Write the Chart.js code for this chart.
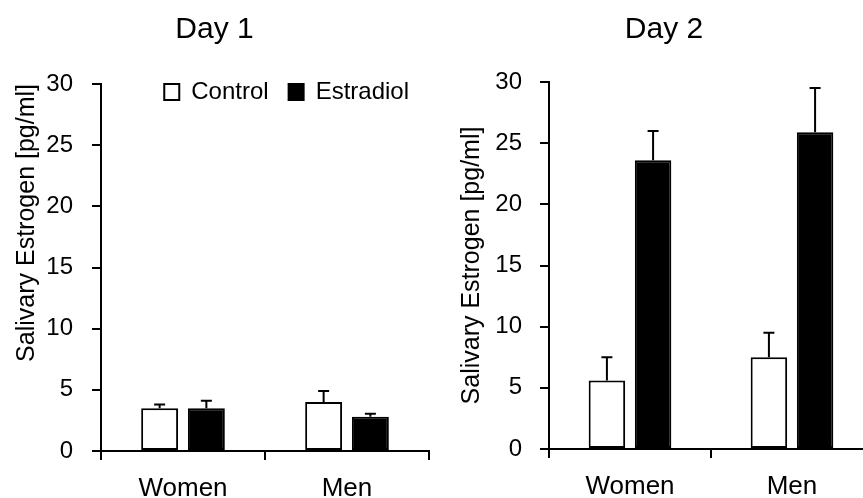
<!DOCTYPE html>
<html>
<head>
<meta charset="utf-8">
<script src="https://cdn.jsdelivr.net/npm/chart.js@4.4.1/dist/chart.umd.min.js"></script>
<style>
  html, body { margin: 0; padding: 0; background: #fff; overflow: hidden; }
  #wrap { position: relative; width: 863px; height: 498px; overflow: hidden; }
  #c1 { position: absolute; left: 0; top: 0; }
  #c2 { position: absolute; left: 432px; top: 0; }
</style>
</head>
<body>
<div id="wrap">
  <canvas id="c1" width="431" height="498"></canvas>
  <canvas id="c2" width="464" height="498"></canvas>
</div>
<script>
/* Data */
const categories = ['Women', 'Men'];
const seriesNames = ['Control', 'Estradiol'];

const day1Control = [3.5, 4.0];
const day1ControlErr = [0.3, 0.9];
const day1Estradiol = [3.5, 2.8];
const day1EstradiolErr = [0.6, 0.25];

const day2Control = [5.6, 7.5];
const day2ControlErr = [1.9, 2.0];
const day2Estradiol = [23.6, 25.9];
const day2EstradiolErr = [2.4, 3.6];

const yMin = 0, yMax = 30, yStep = 5;

Chart.defaults.font.family = "'Liberation Sans', Arial, sans-serif";
Chart.defaults.color = '#000';

/* one-sided (upper) error bars, drawn from the bar elements and the y scale */
const errorBars = {
  id: 'errorBars',
  afterDatasetsDraw(chart) {
    const ctx = chart.ctx;
    const y = chart.scales.y;
    chart.data.datasets.forEach((ds, i) => {
      const meta = chart.getDatasetMeta(i);
      meta.data.forEach((bar, j) => {
        const top = y.getPixelForValue(ds.data[j] + ds.errors[j]);
        ctx.save();
        ctx.strokeStyle = '#000';
        ctx.lineWidth = 2;
        ctx.beginPath();
        ctx.moveTo(bar.x, bar.y);
        ctx.lineTo(bar.x, top);
        ctx.moveTo(bar.x - 5.5, top);
        ctx.lineTo(bar.x + 5.5, top);
        ctx.stroke();
        ctx.restore();
      });
    });
  }
};

/* the legend sits partly inside the plot area: keep its layout slot small,
   but let it draw below that slot */
const legendOverlap = {
  id: 'legendOverlap',
  afterLayout(chart) {
    const l = chart.legend;
    if (!l || !l.options.display) return;
    l.height = 80;
    l.bottom = l.top + 80;
  }
};

function makeConfig(title, ctrl, ctrlErr, estr, estrErr, o) {
  return {
    type: 'bar',
    data: {
      labels: categories,
      datasets: [{
        label: seriesNames[0],
        data: ctrl,
        errors: ctrlErr,
        backgroundColor: '#fff',
        borderColor: '#000',
        borderWidth: 2,
        borderSkipped: false
      }, {
        label: seriesNames[1],
        data: estr,
        errors: estrErr,
        backgroundColor: '#000',
        borderColor: '#000',
        borderWidth: 2,
        borderSkipped: false
      }]
    },
    options: {
      responsive: false,
      animation: false,
      events: [],
      layout: { padding: { left: o.padLeft, right: o.padRight, top: 0, bottom: 0 } },
      datasets: { bar: { categoryPercentage: 0.57, barPercentage: 0.79 } },
      plugins: {
        title: {
          display: true, text: title,
          font: { size: 30, weight: 'normal' },
          padding: { top: 12, bottom: o.titleBottom }
        },
        legend: {
          display: o.legend,
          position: 'top',
          align: 'end',
          maxHeight: 24,
          labels: {
            boxWidth: 15, boxHeight: 16,
            font: { size: 24 },
            padding: 20
          }
        },
        tooltip: { enabled: false }
      },
      scales: {
        x: {
          afterFit: (s) => { s.height = o.xHeight; },
          grid: { drawOnChartArea: false, tickLength: 9, color: '#000', lineWidth: 2, offset: true },
          border: { display: true, color: '#000', width: 2 },
          ticks: { font: { size: 26 }, padding: 13 }
        },
        y: {
          min: yMin, max: yMax,
          afterFit: (s) => { s.width = o.yWidth; },
          grid: { drawOnChartArea: false, tickLength: 9, color: '#000', lineWidth: 2 },
          border: { display: true, color: '#000', width: 2 },
          ticks: { stepSize: yStep, font: { size: 24 }, padding: o.tickPad },
          title: {
            display: true,
            text: 'Salivary Estrogen [pg/ml]',
            align: o.titleAlign,
            font: { size: 25 },
            padding: { top: o.yTitlePad, bottom: 0 }
          }
        }
      }
    },
    plugins: [errorBars, legendOverlap]
  };
}

new Chart(document.getElementById('c1'),
  makeConfig('Day 1', day1Control, day1ControlErr, day1Estradiol, day1EstradiolErr,
    { padLeft: 0, padRight: 2, titleBottom: 12, xHeight: 47, yWidth: 101, tickPad: 19, yTitlePad: 12, titleAlign: 'end', legend: true }));

new Chart(document.getElementById('c2'),
  makeConfig('Day 2', day2Control, day2ControlErr, day2Estradiol, day2EstradiolErr,
    { padLeft: 23, padRight: 23, titleBottom: 34, xHeight: 49, yWidth: 94, tickPad: 18, yTitlePad: 2, titleAlign: 'center', legend: false }));
</script>
</body>
</html>
